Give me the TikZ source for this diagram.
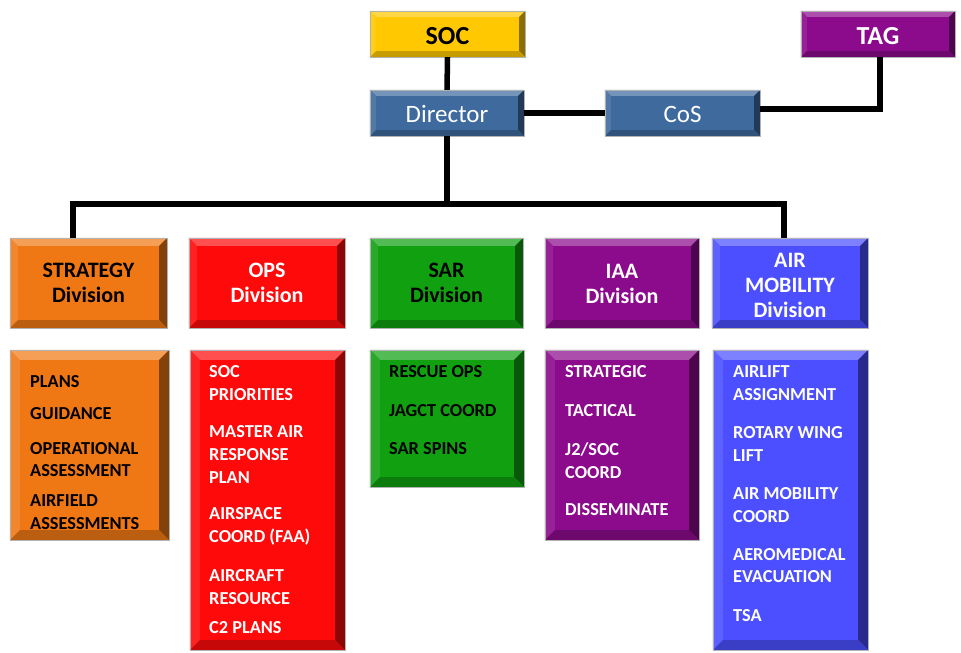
\documentclass[tikz,border=0pt]{standalone}
\usepackage{fontspec}
\setmainfont{Carlito}
\usetikzlibrary{fit}
\definecolor{cgold}{HTML}{FFC800}
\definecolor{cpurple}{HTML}{8C0A8C}
\definecolor{csteel}{HTML}{3E6A9E}
\definecolor{corange}{HTML}{F07814}
\definecolor{cred}{HTML}{FF0A0A}
\definecolor{cgreen}{HTML}{10A010}
\definecolor{cblue}{HTML}{4B4FFF}
\def\bw{8pt}
\newcommand\bevbox[6]{%
  \path (#3,#4) coordinate (#1-a) (#5,#6) coordinate (#1-b);
  \node[fit=(#1-a)(#1-b), inner sep=0pt, fill=#2] (#1) {};
  \fill[#2!72!white] (#1.north west) -- (#1.north east) -- ([xshift=-\bw,yshift=-\bw]#1.north east) -- ([xshift=\bw,yshift=-\bw]#1.north west) -- cycle;
  \fill[#2!90!white] (#1.north west) -- ([xshift=\bw,yshift=-\bw]#1.north west) -- ([xshift=\bw,yshift=\bw]#1.south west) -- (#1.south west) -- cycle;
  \fill[#2!55!black] (#1.north east) -- (#1.south east) -- ([xshift=-\bw,yshift=\bw]#1.south east) -- ([xshift=-\bw,yshift=-\bw]#1.north east) -- cycle;
  \fill[#2!78!black] (#1.south west) -- (#1.south east) -- ([xshift=-\bw,yshift=\bw]#1.south east) -- ([xshift=\bw,yshift=\bw]#1.south west) -- cycle;
  \draw[gray!60, line width=0.5pt] (#1.north west) rectangle (#1.south east);
}
\tikzset{
  conn/.style={line width=5.5pt, black},
  toptext/.style={font=\bfseries\fontsize{26}{30}\selectfont, inner sep=0pt},
  roletext/.style={font=\fontsize{25}{30}\selectfont, inner sep=0pt, text=white},
  divtext/.style={font=\bfseries\fontsize{22}{25}\selectfont, align=center, inner sep=0pt},
  li/.style={font=\bfseries\fontsize{18.3}{22.6}\selectfont, align=left, anchor=west, inner sep=0pt},
}
\begin{document}
\begin{tikzpicture}[x=1pt,y=-1pt]
\useasboundingbox (0,0) rectangle (961,653);
% top level
\def\bw{6pt}
\bevbox{soc}{cgold}{370}{11}{525}{57}
\bevbox{tag}{cpurple}{801}{11}{955}{57}
\bevbox{dir}{csteel}{370}{90}{524}{136}
\bevbox{cos}{csteel}{605}{90}{760}{136}
\node[toptext, text=black] (socT) at ([yshift=-2pt]soc.center) {SOC};
\node[toptext, text=white] (tagT) at ([yshift=-2pt]tag.center) {TAG};
\node[roletext] (dirT) at ([yshift=-1pt]dir.center) {Director};
\node[roletext] (cosT) at ([yshift=-1pt]cos.center) {CoS};
% divisions
\def\bw{8pt}
\bevbox{strat}{corange}{10}{238}{167}{328}
\bevbox{ops}{cred}{189}{238}{345}{328}
\bevbox{sar}{cgreen}{370}{238}{523}{328}
\bevbox{iaa}{cpurple}{545}{238}{699}{328}
\bevbox{am}{cblue}{712}{238}{868}{328}
\node[divtext, text=black] (stratT) at (strat) {STRATEGY\\Division};
\node[divtext, text=white] (opsT) at (ops) {OPS\\Division};
\node[divtext, text=black] (sarT) at (sar) {SAR\\Division};
\node[divtext, text=white] (iaaT) at ([yshift=-1pt]iaa.center) {IAA\\Division};
\node[divtext, text=white] (amT) at ([yshift=-2pt]am.center) {AIR\\MOBILITY\\Division};
% lists
\def\bw{10pt}
\bevbox{lstrat}{corange}{10}{350}{169}{540}
\bevbox{lops}{cred}{190}{350}{345}{650}
\bevbox{lsar}{cgreen}{370}{350}{524}{487}
\bevbox{liaa}{cpurple}{545}{350}{699}{540}
\bevbox{lam}{cblue}{713}{350}{868}{650}
% strategy items
\node[li, text=black] (s1) at (30,381.5) {PLANS};
\node[li, text=black] (s2) at (30,414) {GUIDANCE};
\node[li, text=black] (s3) at (30,459.5) {OPERATIONAL\\ASSESSMENT};
\node[li, text=black] (s4) at (30,512) {AIRFIELD\\ASSESSMENTS};
% ops items
\node[li, text=white] (o1) at (209,383) {SOC\\PRIORITIES};
\node[li, text=white] (o2) at (209,454.5) {MASTER AIR\\RESPONSE\\PLAN};
\node[li, text=white] (o3) at (209,526.5) {AIRSPACE\\COORD (FAA)};
\node[li, text=white] (o4) at (209,587) {AIRCRAFT\\RESOURCE};
\node[li, text=white] (o5) at (209,628) {C2 PLANS};
% sar items
\node[li, text=black] (r1) at (389,372) {RESCUE OPS};
\node[li, text=black] (r2) at (389,410.5) {JAGCT COORD};
\node[li, text=black] (r3) at (389,449) {SAR SPINS};
% iaa items
\node[li, text=white] (i1) at (565,372) {STRATEGIC};
\node[li, text=white] (i2) at (565,410.5) {TACTICAL};
\node[li, text=white] (i3) at (565,460.6) {J2/SOC\\COORD};
\node[li, text=white] (i4) at (565,509.5) {DISSEMINATE};
% air mobility items
\node[li, text=white] (a1) at (733,383) {AIRLIFT\\ASSIGNMENT};
\node[li, text=white] (a2) at (733,444) {ROTARY WING\\LIFT};
\node[li, text=white] (a3) at (733,505) {AIR MOBILITY\\COORD};
\node[li, text=white] (a4) at (733,565.5) {AEROMEDICAL\\EVACUATION};
\node[li, text=white] (a5) at (733,615.8) {TSA};
% connectors
\coordinate (bus) at (447,204);
\coordinate (tagdrop) at (880,57);
\draw[conn] (soc.south) -- (dir.north);
\draw[conn] (dir.east) -- (cos.west);
\draw[conn] ([yshift=4pt]cos.east) -| (tagdrop);
\draw[conn] (dir.south) -- (bus);
\draw[conn] ([xshift=-15.5pt]strat.north) |- (bus) -| ([xshift=-6pt]am.north);
\end{tikzpicture}
\end{document}
